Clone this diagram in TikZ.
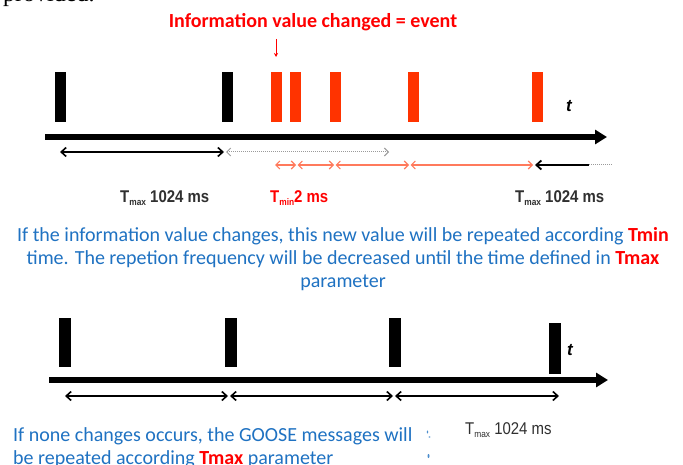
\documentclass[tikz,border=0pt]{standalone}
\usepackage{fontspec}
\setmainfont{Carlito}
\newfontfamily\narrowfont[FakeStretch=0.88]{Liberation Sans}
\newfontfamily\arialfont{Liberation Sans}
\newfontfamily\timesfont{Liberation Serif}
\usetikzlibrary{arrows.meta}

\definecolor{txtblue}{HTML}{1F72C2}
\definecolor{evred}{HTML}{FF0000}
\definecolor{barred}{HTML}{FF3300}
\definecolor{lightred}{HTML}{FF7A5C}
\definecolor{labgray}{HTML}{303030}
\definecolor{dotgray}{HTML}{9A9A9A}

% T with a small lowered index, as in T_max / T_min
\newcommand\Tidx[1]{T\raisebox{-2.5pt}{\fontsize{9.5}{9.5}\selectfont #1}}

\tikzset{
  pulsebar/.style={rectangle, inner sep=0pt, minimum width=11pt, minimum height=50pt, fill=black},
  redbar/.style={pulsebar, fill=barred},
  axisline/.style={line width=5.5pt, -{Triangle[length=12pt,width=14pt]}},
  spanarrow/.style={line width=1.6pt, {Straight Barb[length=5pt,width=9pt]}-{Straight Barb[length=5pt,width=9pt]}},
  dotarrow/.style={line width=1pt, dotgray, densely dotted, {Straight Barb[length=4pt,width=8pt,line width=1pt]}-{Straight Barb[length=4pt,width=8pt,line width=1pt]}},
  redarrow/.style={line width=1.1pt, lightred, {Straight Barb[length=4pt,width=8pt]}-{Straight Barb[length=4pt,width=8pt]}},
  timelabel/.style={inner sep=0pt, text=labgray, font=\narrowfont\bfseries\fontsize{17}{17}\selectfont},
  tmark/.style={inner sep=0pt, font=\arialfont\bfseries\itshape\fontsize{17}{17}\selectfont},
  bluetext/.style={inner sep=0pt, text=txtblue, font=\fontsize{20}{23}\selectfont},
}

\begin{document}
\begin{tikzpicture}[x=1pt,y=-1pt]
\clip (0,0) rectangle (683,465);
\useasboundingbox (0,0) rectangle (683,465);
\fill[white] (0,0) rectangle (683,465);

% tail of the preceding line of text
\node[anchor=base west, inner sep=0pt, font=\timesfont\fontsize{24}{24}\selectfont] (prev) at (3,2) {provided.};

% ---------- event sequence ----------
\node[inner sep=0pt, text=evred, font=\bfseries\fontsize{20}{22}\selectfont] (title) at (313,22) {Information value changed = event};
\coordinate (ev0) at (276,39);
\coordinate (ev1) at (276,57);
\draw[evred, line width=0.8pt, -{Stealth[length=4pt,width=4pt]}] (ev0) -- (ev1);

\node[pulsebar] (b1) at (60,97) {};
\node[pulsebar] (b2) at (227,97) {};
\node[redbar] (r1) at (276,97) {};
\node[redbar] (r2) at (295,97) {};
\node[redbar] (r3) at (335,97) {};
\node[redbar] (r4) at (413,97) {};
\node[redbar] (r5) at (537,97) {};
\node[tmark] (t1) at (569,106) {t};

\coordinate (ax0) at (45,137);
\coordinate (ax1) at (607,137);
\draw[axisline] (ax0) -- (ax1);

\coordinate (s0) at (60,152);
\coordinate (s1) at (224,152);
\coordinate (s2) at (389,152);
\draw[spanarrow] (s0) -- (s1);
\draw[dotarrow] (s1) ++(2,0) coordinate (s1b) -- (s2);

\coordinate (m0) at (275,165);
\coordinate (m1) at (296,165);
\coordinate (m2) at (334,165);
\coordinate (m3) at (409,165);
\coordinate (m4) at (533,165);
\draw[redarrow] (m0) -- (m1);
\draw[redarrow] (m1) ++(1.5,0) -- (m2);
\draw[redarrow] (m2) ++(1.5,0) -- (m3);
\draw[redarrow] (m3) ++(1.5,0) -- (m4);

\coordinate (k0) at (535,165);
\coordinate (k1) at (589,165);
\coordinate (k2) at (612,165);
\draw[line width=1.8pt, {Straight Barb[length=5pt,width=9pt]}-] (k0) -- (k1);
\draw[line width=1pt, dotgray, densely dotted] (k1) -- (k2);

\node[timelabel, anchor=west] (l1) at (120,198) {\Tidx{max} 1024 ms};
\node[timelabel, anchor=west, text=evred] (l2) at (270,198) {\Tidx{min}2 ms};
\node[timelabel, anchor=west] (l3) at (515,198) {\Tidx{max} 1024 ms};

\node[bluetext, align=center] (para) at (343,259)
  {If the information value changes, this new value will be repeated according \textcolor{evred}{\bfseries Tmin}\\
   time. The repetion frequency will be decreased until the time defined in \textcolor{evred}{\bfseries Tmax}\\
   parameter};

% ---------- steady sequence ----------
\node[pulsebar, minimum width=12pt, minimum height=49pt] (p1) at (65,342) {};
\node[pulsebar, minimum width=12pt, minimum height=49pt] (p2) at (231,342) {};
\node[pulsebar, minimum width=12pt, minimum height=49pt] (p3) at (395,342) {};
\node[pulsebar, minimum width=12pt, minimum height=51pt] (p4) at (555,348) {};
\node[tmark] (t2) at (570,350) {t};

\coordinate (bx0) at (49,380);
\coordinate (bx1) at (608,380);
\draw[axisline, line width=6pt] (bx0) -- (bx1);

\coordinate (q0) at (65,396);
\coordinate (q1) at (228,396);
\coordinate (q2) at (393,396);
\coordinate (q3) at (559,396);
\draw[spanarrow] (q0) -- (q1);
\draw[spanarrow] (q1) ++(2,0) -- (q2);
\draw[spanarrow] (q2) ++(2,0) -- (q3);

\node[timelabel, anchor=west, font=\narrowfont\fontsize{17}{17}\selectfont] (l4) at (465,430) {\Tidx{max} 1024 ms};

\node[bluetext, align=left, anchor=north west] (note) at (13,427)
  {If none changes occurs, the GOOSE messages will\\
   be repeated according \textcolor{evred}{\bfseries Tmax} parameter};

% stray marks right of the note
\fill[txtblue!80] (427.5,432) ellipse (0.8pt and 1.6pt);
\fill[txtblue!60] (429.5,437) ellipse (1.2pt and 0.8pt);
\fill[txtblue!80] (428.5,456) ellipse (1pt and 2pt);
\end{tikzpicture}
\end{document}
